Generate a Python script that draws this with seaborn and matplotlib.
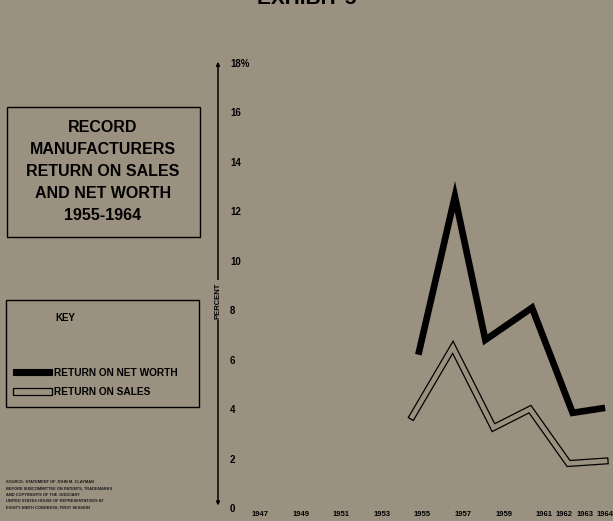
import matplotlib
matplotlib.use("Agg")
import matplotlib.pyplot as plt
import matplotlib.patheffects as pe
from matplotlib.patches import Rectangle
import matplotlib.transforms as mtransforms
import pandas as pd
import seaborn as sns

years_net = [1954.8, 1956.6, 1958.1, 1960.4, 1962.4, 1964.0]
return_net_worth = [6.2, 12.6, 6.8, 8.1, 3.85, 4.05]
years_sales = [1954.5, 1956.5, 1958.5, 1960.3, 1962.2, 1964.0]
return_sales = [3.7, 6.5, 3.25, 4.0, 1.8, 1.9]

x_ticks = [1947, 1949, 1951, 1953, 1955, 1957, 1959, 1961, 1962, 1963, 1964]
y_ticks = list(range(0, 19, 2))
y_labels = [str(v) for v in y_ticks[:-1]] + ["18%"]

title_lines = ["RECORD", "MANUFACTURERS", "RETURN ON SALES", "AND NET WORTH", "1955-1964"]
key_labels = ["RETURN ON NET WORTH", "RETURN ON SALES"]
source_lines = [
    "SOURCE: STATEMENT OF JOHN M. CLAYMAN",
    "BEFORE SUBCOMMITTEE ON PATENTS, TRADEMARKS",
    "AND COPYRIGHTS OF THE JUDICIARY",
    "UNITED STATES HOUSE OF REPRESENTATIVES AT",
    "EIGHTY-NINTH CONGRESS, FIRST SESSION",
]

BG = "#9b9181"
W, H = 613, 521

sns.set_style("white", {"axes.facecolor": "none", "figure.facecolor": BG,
                        "text.color": "black", "xtick.color": "black",
                        "ytick.color": "black"})
plt.rcParams["font.family"] = ["Liberation Sans", "DejaVu Sans"]

fig = plt.figure(figsize=(W / 100, H / 100), dpi=100, facecolor=BG)

# overlay in pixel coordinates for the text panels on the left
ov = fig.add_axes([0, 0, 1, 1], zorder=0)
ov.set_xlim(0, W)
ov.set_ylim(H, 0)
ov.axis("off")

# cut-off exhibit heading at the very top
ov.text(307, 4, "EXHIBIT 5", ha="center", va="baseline", fontsize=15,
        fontweight="bold", color="black")

# title box
ov.add_patch(Rectangle((7, 107), 193, 130, fill=False, ec="black", lw=1.0))
for i, line in enumerate(title_lines):
    ov.text(103, 128 + i * 22, line, ha="center", va="center", fontsize=11.5,
            fontweight="bold", color="black")

# key box
ov.add_patch(Rectangle((6, 300), 193, 107, fill=False, ec="black", lw=1.0))
ov.text(65, 318, "KEY", ha="center", va="center", fontsize=7, fontweight="bold",
        color="black")
ov.add_patch(Rectangle((13, 369), 39, 6, fc="black", ec="black", lw=0.8))
ov.add_patch(Rectangle((13, 388), 39, 7, fc=BG, ec="black", lw=0.9))
ov.text(54, 373, key_labels[0], ha="left", va="center", fontsize=7.3,
        fontweight="bold", color="black")
ov.text(54, 392, key_labels[1], ha="left", va="center", fontsize=7.3,
        fontweight="bold", color="black")

# tiny source note
for i, line in enumerate(source_lines):
    ov.text(6, 482 + i * 6.3, line, ha="left", va="center", fontsize=2.9,
            fontweight="bold", color="#1a1a1a")

# main chart
ax = fig.add_axes([218 / W, (H - 508) / H, (W - 218) / W, (508 - 63) / H], zorder=2)
ax.set_facecolor("none")

net_df = pd.DataFrame({"year": years_net, "value": return_net_worth})
sales_df = pd.DataFrame({"year": years_sales, "value": return_sales})

sns.lineplot(data=net_df, x="year", y="value", ax=ax, color="black", lw=4.8,
             solid_joinstyle="miter", solid_capstyle="butt")
# hollow line: black stroke underneath, background-coloured core on top
sns.lineplot(data=sales_df, x="year", y="value", ax=ax, color=BG, lw=3.3,
             solid_joinstyle="miter", solid_capstyle="projecting",
             path_effects=[pe.Stroke(linewidth=5.1, foreground="black",
                                     capstyle="projecting", joinstyle="miter"),
                           pe.Normal()])

ax.set_xlim(1944.93, 1964.39)
ax.set_ylim(0, 18)
for s in ax.spines.values():
    s.set_visible(False)
ax.set_xlabel("")
ax.set_ylabel("")

ax.set_xticks(x_ticks)
ax.set_xticklabels([str(y) for y in x_ticks], fontsize=5.5, fontweight="bold",
                   family=["Liberation Sans Narrow", "Liberation Sans"])
ax.set_yticks(y_ticks)
ax.set_yticklabels(y_labels, ha="left", fontsize=7, fontweight="bold",
                   family=["Liberation Sans Narrow", "Liberation Sans"])
ax.tick_params(axis="both", colors="black")
ax.tick_params(axis="x", length=0, pad=2)
ax.tick_params(axis="y", length=0, pad=-8.6)

# vertical percent axis with arrow ends
trans = mtransforms.blended_transform_factory(ax.transAxes, ax.transData)
ax.annotate("", xy=(0, 18.05), xytext=(0, 0.1), xycoords=trans, textcoords=trans,
            arrowprops=dict(arrowstyle="<|-|>", lw=1.1, color="black",
                            mutation_scale=5, shrinkA=0, shrinkB=0),
            annotation_clip=False)
ax.text(0, 8.4, "PERCENT", transform=trans, rotation=90, ha="center", va="center",
        fontsize=5.5, fontweight="bold", zorder=5, color="black",
        bbox=dict(fc=BG, ec="none", pad=1.2))

fig.savefig("out.png", dpi=100, facecolor=BG)
